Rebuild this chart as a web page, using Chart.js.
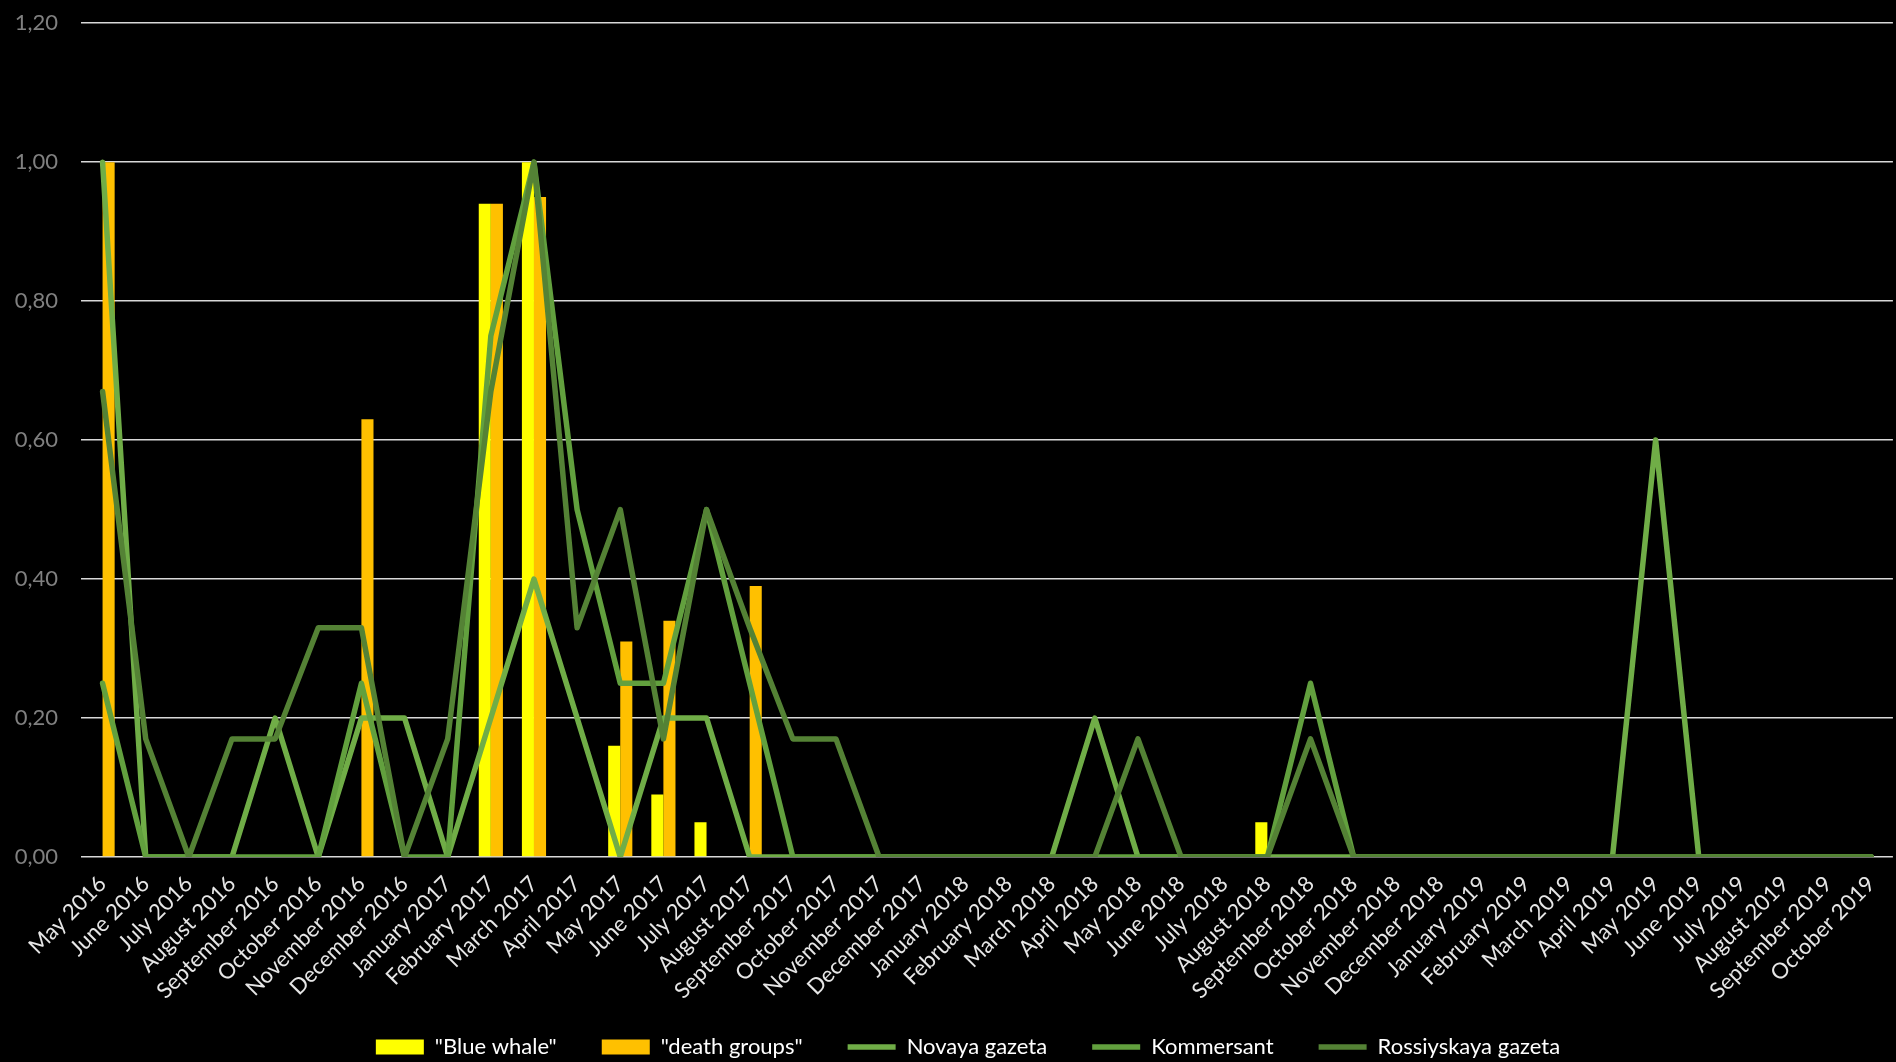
<!DOCTYPE html>
<html>
<head>
<meta charset="utf-8">
<script src="https://cdn.jsdelivr.net/npm/chart.js@4/dist/chart.umd.min.js"></script>
<style>
  html, body { margin: 0; padding: 0; background: #000; }
  #cadre { width: 1896px; height: 1062px; }
</style>
</head>
<body>
<div id="cadre"><canvas id="graphique" width="1896" height="1062"></canvas></div>
<script>
const mois = [
    "May 2016", "June 2016", "July 2016", "August 2016", "September 2016", "October 2016",
    "November 2016", "December 2016", "January 2017", "February 2017", "March 2017", "April 2017",
    "May 2017", "June 2017", "July 2017", "August 2017", "September 2017", "October 2017",
    "November 2017", "December 2017", "January 2018", "February 2018", "March 2018", "April 2018",
    "May 2018", "June 2018", "July 2018", "August 2018", "September 2018", "October 2018",
    "November 2018", "December 2018", "January 2019", "February 2019", "March 2019", "April 2019",
    "May 2019", "June 2019", "July 2019", "August 2019", "September 2019", "October 2019"
];

// barres
const blueWhale = [0, 0, 0, 0, 0, 0, 0, 0, 0, 0.94, 1.00, 0, 0.16, 0.09, 0.05, 0, 0, 0, 0, 0, 0,
    0, 0, 0, 0, 0, 0, 0.05, 0, 0, 0, 0, 0, 0, 0, 0, 0, 0, 0, 0, 0, 0];
const deathGroups = [1.00, 0, 0, 0, 0, 0, 0.63, 0, 0, 0.94, 0.95, 0, 0.31, 0.34, 0, 0.39, 0, 0, 0, 0, 0,
    0, 0, 0, 0, 0, 0, 0, 0, 0, 0, 0, 0, 0, 0, 0, 0, 0, 0, 0, 0, 0];

// courbes
const novaya = [1.00, 0, 0, 0, 0.20, 0, 0.20, 0.20, 0, 0.20, 0.40, 0.20, 0, 0.20, 0.20, 0, 0, 0, 0, 0, 0,
    0, 0, 0.20, 0, 0, 0, 0, 0, 0, 0, 0, 0, 0, 0, 0, 0.60, 0, 0, 0, 0, 0];
const kommersant = [0.25, 0, 0, 0, 0, 0, 0.25, 0, 0, 0.75, 1.00, 0.50, 0.25, 0.25, 0.50, 0.25, 0, 0, 0, 0, 0,
    0, 0, 0, 0, 0, 0, 0, 0.25, 0, 0, 0, 0, 0, 0, 0, 0, 0, 0, 0, 0, 0];
const rossiyskaya = [0.67, 0.17, 0, 0.17, 0.17, 0.33, 0.33, 0, 0.17, 0.67, 1.00, 0.33, 0.50, 0.17, 0.50, 0.33, 0.17, 0.17, 0, 0, 0,
    0, 0, 0, 0.17, 0, 0, 0, 0.17, 0, 0, 0, 0, 0, 0, 0, 0, 0, 0, 0, 0, 0];

const graduations = [0, 0.2, 0.4, 0.6, 0.8, 1.0, 1.2];

const police = "Lato, 'Open Sans', sans-serif";

const fondNoir = {
    id: "fondNoir",
    beforeDraw(chart) {
        const ctx = chart.ctx;
        ctx.save();
        ctx.fillStyle = "#000";
        ctx.fillRect(0, 0, chart.width, chart.height);
        ctx.restore();
    }
};

// les étiquettes tournées dépassent l'axe x : on agrandit la zone de découpe,
// et on décale un peu la légende vers la droite
const retouches = {
    id: "retouches",
    afterLayout(chart) {
        chart.scales.x.bottom = chart.height;
        if (chart.legend) {
            chart.legend.left += 20;
            chart.legend.right += 20;
        }
    }
};

function courbe(label, data, couleur, ordre) {
    return {
        type: "line",
        label: label,
        data: data,
        borderColor: couleur,
        backgroundColor: couleur,
        borderWidth: 5.5,
        pointRadius: 0,
        tension: 0,
        borderJoinStyle: "round",
        borderCapStyle: "round",
        pointStyle: "line",
        order: ordre
    };
}

const data = {
    labels: mois,
    datasets: [
        { type: "bar", label: "\"Blue whale\"", data: blueWhale, backgroundColor: "#FFFF00", pointStyle: "rect", order: 10 },
        { type: "bar", label: "\"death groups\"", data: deathGroups, backgroundColor: "#FFC000", pointStyle: "rect", order: 10 },
        courbe("Novaya gazeta", novaya, "#70AD47", 3),
        courbe("Kommersant", kommersant, "#62A03E", 2),
        courbe("Rossiyskaya gazeta", rossiyskaya, "#548235", 1)
    ]
};

const config = {
    type: "bar",
    data: data,
    plugins: [fondNoir, retouches],
    options: {
        responsive: false,
        animation: false,
        devicePixelRatio: 1,
        categoryPercentage: 0.56,
        barPercentage: 1.0,
        layout: { padding: { top: 0, left: 0, right: 0, bottom: -6 } },
        plugins: {
            tooltip: { enabled: false },
            legend: {
                position: "bottom",
                labels: {
                    color: "#ffffff",
                    font: { family: police, size: 22 },
                    usePointStyle: true,
                    pointStyleWidth: 48,
                    boxHeight: 15,
                    padding: 45,
                    sort: (a, b) => a.datasetIndex - b.datasetIndex
                }
            }
        },
        scales: {
            x: {
                grid: { display: false },
                border: { display: false },
                ticks: {
                    color: "#e6e6e6",
                    font: { family: police, size: 22 },
                    minRotation: 45,
                    maxRotation: 45,
                    autoSkip: false,
                    padding: 6
                },
                afterFit(scale) { scale.height = 134; }
            },
            y: {
                min: 0,
                max: 1.2,
                afterBuildTicks(scale) {
                    scale.ticks = graduations.map(v => ({ value: v }));
                },
                grid: { color: "#d9d9d9", lineWidth: 1.5, drawTicks: true, tickLength: 13, tickColor: "rgba(0,0,0,0)" },
                border: { display: false },
                ticks: {
                    color: "#808080",
                    font: { family: police, size: 22 },
                    padding: 10,
                    callback: (v) => Number(v).toFixed(2).replace(".", ",")
                },
                afterFit(scale) { scale.width = 81; }
            }
        }
    }
};

const graphique = new Chart(document.querySelector("#graphique"), config);
</script>
</body>
</html>
